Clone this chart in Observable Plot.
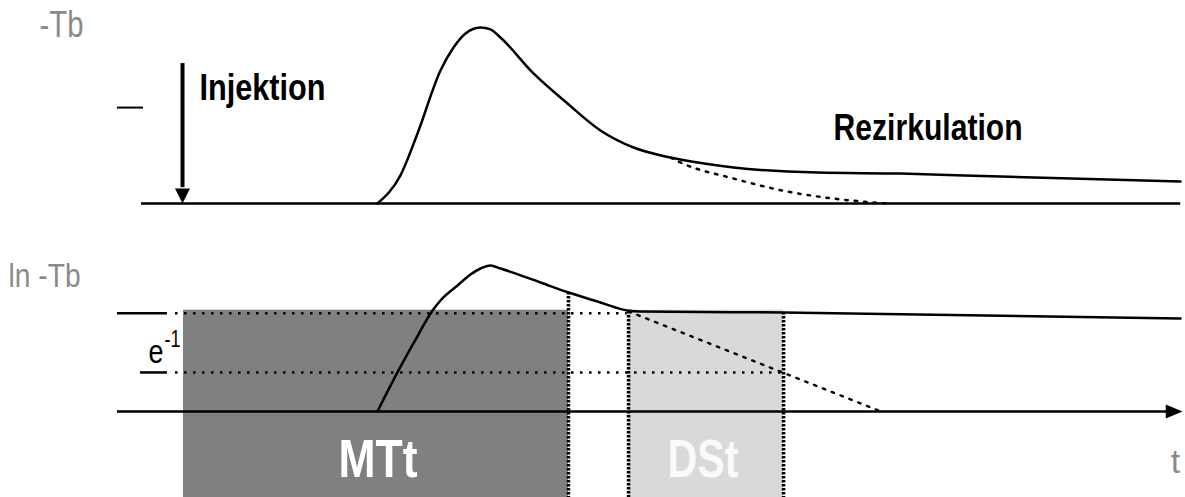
<!DOCTYPE html>
<html>
<head>
<meta charset="utf-8">
<script src="https://cdn.jsdelivr.net/npm/d3@7"></script>
<script src="https://cdn.jsdelivr.net/npm/@observablehq/plot@0.6"></script>
<style>
  html, body { margin: 0; padding: 0; background: #fff; }
  #chart svg { display: block; background: #fff; }
</style>
</head>
<body>
<div id="chart"></div>
<script>
// ---------- data (time in arbitrary units 0..100) ----------
// top panel: -Tb signal (first pass + recirculation)
const tTop = [31.8, 33.75, 35.19, 37.13, 38.23, 39.24, 40.51, 41.35, 42.19, 44.98, 47.85, 50.63, 53.42, 56.54, 61.86, 68.95, 75.95, 84.39, 99.58];
const yTop = [0, 0.16, 0.398, 0.756, 0.886, 0.966, 1.0, 0.989, 0.943, 0.739, 0.568, 0.415, 0.318, 0.261, 0.205, 0.176, 0.170, 0.153, 0.125];
// top panel: extrapolated first-pass decay (dotted)
const tTopTail = [56.54, 57.38, 61.86, 66.41, 70.30, 74.85];
const yTopTail = [0.261, 0.233, 0.142, 0.068, 0.028, 0];

// bottom panel: ln -Tb
const tLog = [31.81, 33.50, 34.94, 36.46, 37.13, 38.57, 39.66, 40.51, 41.35, 42.19, 45.57, 47.93, 50.63, 51.90, 52.91, 54.01, 66.08, 99.58];
const yLog = [0, 0.64, 1.148, 1.656, 1.820, 2.066, 2.246, 2.344, 2.393, 2.344, 2.115, 1.951, 1.787, 1.705, 1.656, 1.639, 1.623, 1.525];
// bottom panel: linear (log) decay extrapolation (dotted)
const tLogTail = [53.0, 74.3];
const yLogTail = [1.64, 0];

// levels in the log panel: plateau and plateau - 1 (e^-1)
const levelNames = ["L0", "e-1"];
const levelValue = [1.61, 0.64];
const levelEnd = [52.9, 66.08];

// phases
const phaseNames = ["MTt", "DSt"];
const phaseStart = [15.44, 53.0];
const phaseEnd = [47.93, 66.08];
const phaseTop = 1.66;
const panelBottom = -1.41;

// markers
const injectionT = 15.36;
const injectionTop = 0.795;
const topBaseStart = 11.9, topBaseEnd = 99.6;
const topTick = [9.87, 12.07, 0.545];
const axisStart = 9.87, axisEnd = 99.75;
const levelTickStart = [9.87, 11.81];
const levelTickEnd = 14.09;
const boundaryT = [47.93, 53.0, 66.08];
const boundaryFrom = [1.951, 1.64, 1.623];

// labels
const topLabels = ["-Tb", "Injektion", "Rezirkulation"];
const topLabelX = [3.29, 16.79, 70.3];
const topLabelY = [1.009, 0.656, 0.429];
const logLabels = ["ln -Tb", "t"];
const logLabelX = [0.68, 99.16];
const logLabelY = [2.221, -0.828];

const topData = tTop.map((t, i) => ({t, y: yTop[i]}));
const topTail = tTopTail.map((t, i) => ({t, y: yTopTail[i]}));
const logData = tLog.map((t, i) => ({t, y: yLog[i]}));
const logTail = tLogTail.map((t, i) => ({t, y: yLogTail[i]}));
const phases = phaseNames.map((name, i) => ({name, start: phaseStart[i], end: phaseEnd[i]}));
const levels = levelNames.map((name, i) => ({name, y: levelValue[i], end: levelEnd[i], tick: levelTickStart[i]}));
const bounds = boundaryT.map((t, i) => ({t, from: boundaryFrom[i]}));

// ---------- styles ----------
const NARROW = "'Liberation Sans Narrow', 'Arial Narrow', 'Liberation Sans', Arial, sans-serif";
const GREY = "#8a8a8a";
const downTri = {draw(ctx, size) { const r = Math.sqrt(size / Math.PI); ctx.moveTo(0, 0); ctx.lineTo(-r, -2 * r); ctx.lineTo(r, -2 * r); ctx.closePath(); }};
const rightTri = {draw(ctx, size) { const r = Math.sqrt(size / Math.PI); ctx.moveTo(0, 0); ctx.lineTo(-2.4 * r, -r); ctx.lineTo(-2.4 * r, r); ctx.closePath(); }};

const topPlot = Plot.plot({
  width: 1185, height: 240,
  marginLeft: 0, marginRight: 0, marginTop: 27, marginBottom: 37,
  x: {domain: [0, 100], axis: null},
  y: {domain: [0, 1], axis: null},
  marks: [
    Plot.ruleY([0], {x1: topBaseStart, x2: topBaseEnd, stroke: "black", strokeWidth: 2.5}),
    Plot.ruleY([topTick[2]], {x1: topTick[0], x2: topTick[1], stroke: "black", strokeWidth: 2}),
    Plot.ruleX([injectionT], {y1: 0.09, y2: injectionTop, stroke: "black", strokeWidth: 4}),
    Plot.dot([injectionT], {x: d => d, y: 0, symbol: downTri, r: 7.5, fill: "black", stroke: null}),
    Plot.line(topTail, {x: "t", y: "y", curve: "monotone-x", stroke: "black", strokeWidth: 2.5, strokeDasharray: "2.5,7"}),
    Plot.line(topData, {x: "t", y: "y", curve: "monotone-x", stroke: "black", strokeWidth: 2.5}),
    Plot.text([0], {x: topLabelX[0], y: topLabelY[0], text: () => topLabels[0], textAnchor: "start", fontSize: 36, fontFamily: NARROW, fill: GREY}),
    Plot.text([1], {x: topLabelX[1], y: topLabelY[1], text: () => topLabels[1], textAnchor: "start", fontSize: 36, fontWeight: "bold", fontFamily: NARROW, fill: "black"}),
    Plot.text([2], {x: topLabelX[2], y: topLabelY[2], text: () => topLabels[2], textAnchor: "start", fontSize: 37, fontWeight: "bold", fontFamily: NARROW, fill: "black"})
  ]
});

const bottomPlot = Plot.plot({
  width: 1185, height: 257,
  marginLeft: 0, marginRight: 0, marginTop: 0, marginBottom: 0,
  x: {domain: [0, 100], axis: null},
  y: {domain: [panelBottom, 2.803], axis: null},
  color: {domain: phaseNames, range: ["#808080", "#d9d9d9"]},
  marks: [
    Plot.rect(phases, {x1: "start", x2: "end", y1: panelBottom, y2: phaseTop, fill: "name"}),
    Plot.ruleY(levels, {y: "y", x1: 14.77, x2: "end", stroke: "black", strokeWidth: 2.5, strokeDasharray: "2.5,6.5"}),
    Plot.ruleY(levels, {y: "y", x1: "tick", x2: levelTickEnd, stroke: "black", strokeWidth: 2.5}),
    Plot.ruleX(bounds, {x: "t", y1: "from", y2: panelBottom, stroke: "black", strokeWidth: 3.5, strokeDasharray: "2.5,1.5"}),
    Plot.ruleY([0], {x1: axisStart, x2: axisEnd - 1.2, stroke: "black", strokeWidth: 2.5}),
    Plot.dot([axisEnd], {x: d => d, y: 0, symbol: rightTri, r: 7, fill: "black", stroke: null}),
    Plot.line(logTail, {x: "t", y: "y", stroke: "black", strokeWidth: 2.5, strokeDasharray: "2.5,7"}),
    Plot.line(logData, {x: "t", y: "y", curve: "monotone-x", stroke: "black", strokeWidth: 2.5}),
    Plot.text([0], {x: logLabelX[0], y: logLabelY[0], text: () => logLabels[0], textAnchor: "start", fontSize: 34, fontFamily: NARROW, fill: GREY}),
    Plot.text([1], {x: logLabelX[1], y: logLabelY[1], text: () => logLabels[1], textAnchor: "middle", fontSize: 34, fontFamily: NARROW, fill: GREY}),
    Plot.text([0], {x: 13.12, y: 0.975, text: () => "e", textAnchor: "middle", fontSize: 33, fontFamily: NARROW, fill: "black"}),
    Plot.text([0], {x: 14.51, y: 1.18, text: () => "-1", textAnchor: "middle", fontSize: 24, fontFamily: NARROW, fill: "black"}),
    Plot.text(phases, {x: [31.86, 59.28], y: -0.795, text: "name", textAnchor: "middle", fontSize: 53, fontWeight: "bold", fontFamily: NARROW, fill: ["#ffffff", "#fafafa"]})
  ]
});

const chart = document.getElementById("chart");
chart.append(topPlot, bottomPlot);

// fit label widths to the reference (condensed lettering)
const widths = {"-Tb": 44, "Injektion": 126, "Rezirkulation": 189, "ln -Tb": 72, "e": 15, "-1": 16, "MTt": 79, "DSt": 71};
chart.querySelectorAll("text").forEach(el => {
  const w = widths[el.textContent];
  if (w) { el.setAttribute("textLength", w); el.setAttribute("lengthAdjust", "spacingAndGlyphs"); }
});
</script>
</body>
</html>
